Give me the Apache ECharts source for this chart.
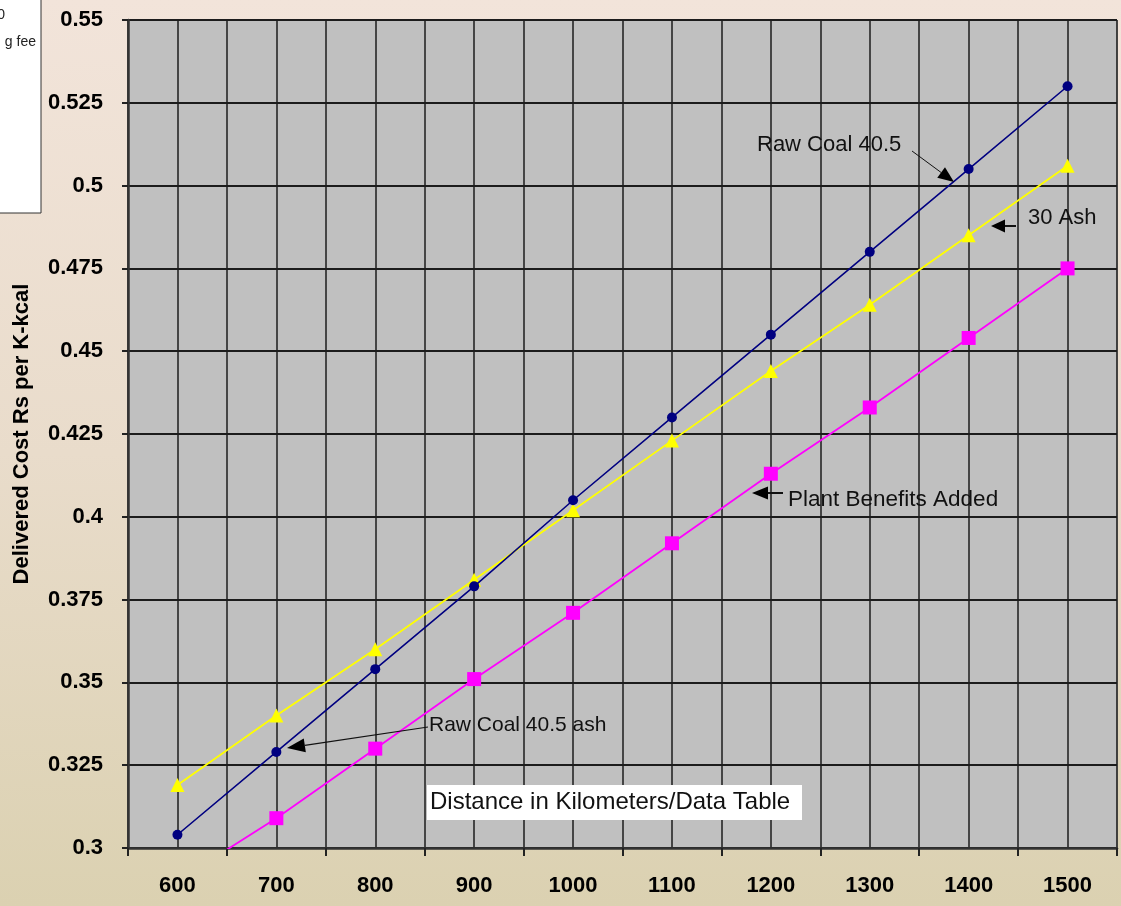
<!DOCTYPE html>
<html>
<head>
<meta charset="utf-8">
<script src="https://cdn.jsdelivr.net/npm/echarts@6/dist/echarts.min.js"></script>
<style>
  html, body { margin: 0; padding: 0; }
  #chart { width: 1121px; height: 906px; }
</style>
</head>
<body>
<div id="chart"></div>
<script>
// Distances (km) and delivered cost per series (Rs per K-kcal)
const distances = ['600', '700', '800', '900', '1000', '1100', '1200', '1300', '1400', '1500'];
const rawCoal = [0.304, 0.329, 0.354, 0.379, 0.405, 0.430, 0.455, 0.480, 0.505, 0.530];
const ash30 = [0.319, 0.340, 0.360, 0.381, 0.402, 0.423, 0.444, 0.464, 0.485, 0.506];
const plantBenefits = [0.290, 0.309, 0.330, 0.351, 0.371, 0.392, 0.413, 0.433, 0.454, 0.475];

const FONT = "'Liberation Sans', Arial, sans-serif";

// Line with a filled arrowhead at (x2, y2)
function arrow(x1, y1, x2, y2, headLen, headW, lw) {
  const a = Math.atan2(y2 - y1, x2 - x1);
  const c = Math.cos(a), s = Math.sin(a);
  const bx = x2 - headLen * c, by = y2 - headLen * s;
  const px = -s * headW / 2, py = c * headW / 2;
  return [
    { type: 'line', silent: true, z: 100,
      shape: { x1: x1, y1: y1, x2: bx, y2: by },
      style: { stroke: '#111', lineWidth: lw } },
    { type: 'polygon', silent: true, z: 100,
      shape: { points: [[x2, y2], [bx + px, by + py], [bx - px, by - py]] },
      style: { fill: '#000' } }
  ];
}

function note(text, x, y, size) {
  return { type: 'text', silent: true, z: 100, x: x, y: y,
    style: { text: text, fill: '#111', font: 'normal ' + size + 'px ' + FONT,
             textAlign: 'left', textVerticalAlign: 'middle' } };
}

const chart = echarts.init(document.getElementById('chart'));

chart.setOption({
  animation: false,
  backgroundColor: {
    type: 'linear', x: 0, y: 0, x2: 0, y2: 1,
    colorStops: [
      { offset: 0, color: '#f2e4da' },
      { offset: 0.5, color: '#e9dccb' },
      { offset: 1, color: '#dbd1b1' }
    ]
  },
  grid: {
    left: 128, top: 20, right: 4, bottom: 58,
    containLabel: false, outerBoundsMode: 'none',
    show: true, backgroundColor: '#c0c0c0',
    borderColor: '#8a8a8a', borderWidth: 1
  },
  xAxis: [
    {
      type: 'category',
      data: distances,
      boundaryGap: true,
      axisLine: { lineStyle: { color: '#333', width: 2.5 } },
      axisTick: { show: true, length: 8, lineStyle: { color: '#222', width: 2 } },
      axisLabel: { color: '#000', fontFamily: FONT, fontWeight: 'bold', fontSize: 22, margin: 27 },
      splitLine: { show: false }
    },
    {
      // grid lines every 50 km
      type: 'value', min: 550, max: 1550, interval: 50,
      position: 'bottom',
      axisLine: { show: false }, axisTick: { show: false }, axisLabel: { show: false },
      splitLine: { show: true, lineStyle: { color: '#1c1c1c', width: 1.5 } }
    }
  ],
  yAxis: {
    type: 'value', min: 0.3, max: 0.55, interval: 0.025,
    name: 'Delivered Cost Rs per K-kcal',
    nameLocation: 'middle', nameGap: 95,
    nameTextStyle: { color: '#000', fontFamily: FONT, fontWeight: 'bold', fontSize: 22 },
    axisLine: { show: true, lineStyle: { color: '#333', width: 2.5 } },
    axisTick: { show: true, length: 6, lineStyle: { color: '#222', width: 2 } },
    axisLabel: { color: '#000', fontFamily: FONT, fontWeight: 'bold', fontSize: 22, margin: 25 },
    splitLine: { show: true, lineStyle: { color: '#1c1c1c', width: 2 } }
  },
  series: [
    {
      name: 'Raw Coal 40.5', type: 'line', xAxisIndex: 0, data: rawCoal,
      symbol: 'circle', symbolSize: 10, clip: true,
      lineStyle: { color: '#000080', width: 1.6 },
      itemStyle: { color: '#000080' }, z: 5
    },
    {
      name: '30 Ash', type: 'line', xAxisIndex: 0, data: ash30,
      symbol: 'triangle', symbolSize: 14, clip: true,
      lineStyle: { color: '#ffff00', width: 1.8 },
      itemStyle: { color: '#ffff00' }, z: 4
    },
    {
      name: 'Plant Benefits Added', type: 'line', xAxisIndex: 0, data: plantBenefits,
      symbol: 'rect', symbolSize: 14, clip: true,
      lineStyle: { color: '#ff00ff', width: 1.8 },
      itemStyle: { color: '#ff00ff' }, z: 3
    }
  ],
  graphic: [
    // partial legend box at the top-left corner
    { type: 'rect', silent: true, shape: { x: -2, y: -2, width: 43, height: 215 },
      style: { fill: '#ffffff', stroke: '#333', lineWidth: 1 } },
    { type: 'text', silent: true, x: 5, y: 15,
      style: { text: '0', fill: '#222', font: 'normal 14px ' + FONT, textAlign: 'right', textVerticalAlign: 'middle' } },
    { type: 'text', silent: true, x: 36, y: 42,
      style: { text: 'g fee', fill: '#222', font: 'normal 14px ' + FONT, textAlign: 'right', textVerticalAlign: 'middle' } },

    note('Raw Coal 40.5', 757, 145, 22),
    ...arrow(912, 151, 954, 182, 16, 13, 1),

    note('30 Ash', 1028, 218, 22),
    ...arrow(1016, 226, 991, 226, 14, 13, 2),

    note('Raw Coal 40.5 ash', 429, 725, 21),
    ...arrow(428, 727, 287, 748, 18, 14, 1.2),

    note('Plant Benefits Added', 788, 500, 22.5),
    ...arrow(783, 493, 752, 493, 16, 13, 2),

    // axis caption box
    { type: 'rect', silent: true, z: 100, shape: { x: 427, y: 785, width: 375, height: 35 },
      style: { fill: '#ffffff' } },
    { type: 'text', silent: true, z: 101, x: 430, y: 802,
      style: { text: 'Distance in Kilometers/Data Table', fill: '#111', font: 'normal 24px ' + FONT,
               textAlign: 'left', textVerticalAlign: 'middle' } }
  ]
});
</script>
</body>
</html>
